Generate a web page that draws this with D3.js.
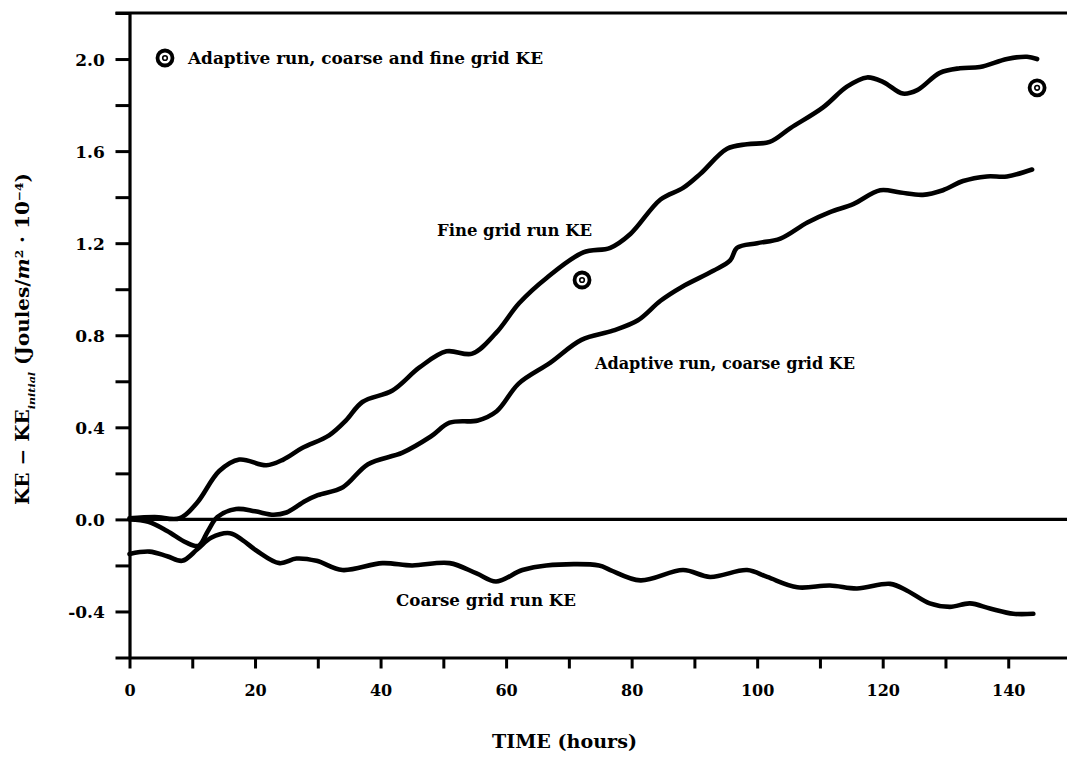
<!DOCTYPE html>
<html>
<head>
<meta charset="utf-8">
<script src="https://cdn.jsdelivr.net/npm/d3@7"></script>
<style>
  body { margin: 0; background: #fff; }
  text { font-family: "DejaVu Serif", "Liberation Serif", serif; font-weight: bold; fill: #000; }
</style>
</head>
<body>
<div id="my_dataviz"></div>
<script>
// values: [time (hours), KE - KE_initial]
var fineGrid = [[0,0.005],[4,0.01],[8,0.005],[10.7,0.07],[14.3,0.21],[17.5,0.26],[21.8,0.235],[24.5,0.26],
  [27.5,0.31],[31.8,0.365],[34.5,0.43],[37.1,0.51],[41.9,0.56],[46.2,0.66],[50.5,0.73],[54.6,0.72],[58.4,0.81],
  [62.1,0.94],[66.5,1.05],[72.3,1.16],[76.6,1.18],[79.8,1.24],[84.6,1.39],[88.2,1.44],[90.9,1.5],[95.2,1.61],
  [98.4,1.63],[102,1.64],[105.3,1.7],[110.5,1.79],[114.3,1.88],[117.5,1.92],[120.1,1.9],[123.2,1.85],[125.5,1.865],
  [129.1,1.94],[132.3,1.96],[135.5,1.965],[139.8,2.0],[143,2.01],[144.6,2.0]];
var adaptiveCoarse = [[0,0],[3,-0.01],[6,-0.05],[9,-0.1],[11,-0.115],[12.5,-0.05],[14,0.01],[17,0.045],[20,0.035],
  [23,0.02],[25,0.03],[28,0.08],[30,0.105],[34,0.14],[38,0.24],[43.5,0.29],[48,0.36],[51,0.42],[55.5,0.43],
  [58.5,0.47],[62,0.59],[67,0.68],[72,0.78],[77,0.82],[81,0.865],[84.6,0.95],[88,1.01],[93,1.08],[95.7,1.125],
  [96.8,1.18],[100,1.2],[103.7,1.22],[108,1.29],[111.6,1.335],[115.3,1.37],[119.6,1.43],[122.8,1.42],[126.4,1.41],
  [129.6,1.43],[132.8,1.47],[136.6,1.49],[139.8,1.49],[143.8,1.52]];
var coarseGrid = [[0,-0.15],[3.2,-0.14],[6,-0.16],[8.4,-0.18],[10.8,-0.13],[13,-0.08],[16,-0.06],[18,-0.09],
  [20.2,-0.135],[23.9,-0.19],[26.6,-0.17],[29.8,-0.18],[33.9,-0.22],[40.3,-0.19],[45,-0.2],[51,-0.19],[55.3,-0.235],
  [58.4,-0.27],[62.6,-0.22],[66.4,-0.2],[74.8,-0.2],[76.6,-0.22],[81.4,-0.265],[88.2,-0.22],[92.5,-0.25],[98.4,-0.22],
  [101.6,-0.25],[106.4,-0.295],[111.6,-0.287],[115.9,-0.3],[121.2,-0.28],[123.9,-0.31],[127.5,-0.365],[130.7,-0.38],
  [133.9,-0.365],[137.1,-0.387],[140.8,-0.41],[144,-0.41]];
var adaptiveFinePoints = [[72.1,1.04],[144.6,1.875]];

var xTicks = d3.range(0, 141, 10);
var xLabels = [0, 20, 40, 60, 80, 100, 120, 140];
var yTicks = d3.range(-6, 23, 2).map(function(d) { return d / 10; });
var yLabels = [-0.4, 0.0, 0.4, 0.8, 1.2, 1.6, 2.0];

var width = 1067, height = 757;

var svg = d3.select("#my_dataviz")
  .append("svg")
    .attr("width", width)
    .attr("height", height);

var x = d3.scaleLinear().domain([0, 150]).range([129.5, 1071]);
var y = d3.scaleLinear().domain([-0.6, 2.2]).range([657.5, 13]);

// axes (ticks outward, labels only on the major ones)
var xAxis = svg.append("g")
  .attr("transform", "translate(0," + y(-0.6) + ")")
  .call(d3.axisBottom(x).tickValues(xTicks).tickSize(11).tickSizeOuter(0)
    .tickFormat(function(d) { return xLabels.indexOf(d) >= 0 ? d : ""; }));
var yAxis = svg.append("g")
  .attr("transform", "translate(" + x(0) + ",0)")
  .call(d3.axisLeft(y).tickValues(yTicks).tickSize(14).tickSizeOuter(0)
    .tickFormat(function(d) {
      var isMajor = yLabels.some(function(v) { return Math.abs(v - d) < 1e-6; });
      return isMajor ? d.toFixed(1) : "";
    }));

[xAxis, yAxis].forEach(function(g) {
  g.select(".domain").attr("stroke", "#000").attr("stroke-width", 3.2);
  g.selectAll(".tick line").attr("stroke", "#000").attr("stroke-width", 3);
  g.selectAll(".tick text").style("font-family", "'DejaVu Serif', serif")
    .style("font-weight", "bold").attr("fill", "#000");
});
xAxis.selectAll(".tick text").style("font-size", "16px").attr("dy", "1.55em");
yAxis.selectAll(".tick text").style("font-size", "17px").attr("dx", "-0.45em").attr("dy", "0.36em");

// top border and zero line
svg.append("line")
  .attr("x1", x(0) - 14).attr("x2", width)
  .attr("y1", y(2.2)).attr("y2", y(2.2))
  .attr("stroke", "#000").attr("stroke-width", 3.2);
svg.append("line")
  .attr("x1", x(0)).attr("x2", width)
  .attr("y1", y(0)).attr("y2", y(0))
  .attr("stroke", "#000").attr("stroke-width", 3.2);

// curves
var line = d3.line()
  .x(function(d) { return x(d[0]); })
  .y(function(d) { return y(d[1]); })
  .curve(d3.curveCatmullRom.alpha(0.5));

[fineGrid, adaptiveCoarse, coarseGrid].forEach(function(s) {
  svg.append("path")
    .datum(s)
    .attr("d", line)
    .attr("fill", "none")
    .attr("stroke", "#000")
    .attr("stroke-width", 4.6)
    .attr("stroke-linecap", "round")
    .attr("stroke-linejoin", "round");
});

// circled-dot markers
function marker(cx, cy) {
  svg.append("circle").attr("cx", cx).attr("cy", cy).attr("r", 7.5)
    .attr("fill", "#fff").attr("stroke", "#000").attr("stroke-width", 3.8);
  svg.append("circle").attr("cx", cx).attr("cy", cy).attr("r", 2.3)
    .attr("fill", "none").attr("stroke", "#000").attr("stroke-width", 1.6);
}
adaptiveFinePoints.forEach(function(d) { marker(x(d[0]), y(d[1])); });
marker(165, 58);

// labels
function label(txt, x0, yc, len, size) {
  svg.append("text")
    .attr("x", x0).attr("y", yc)
    .attr("dy", "0.36em")
    .attr("textLength", len)
    .attr("lengthAdjust", "spacingAndGlyphs")
    .style("font-size", size + "px")
    .text(txt);
}
label("Adaptive run, coarse and fine grid KE", 188, 58, 355, 17);
label("Fine grid run KE", 437, 230, 155, 17);
label("Adaptive run, coarse grid KE", 595, 363, 260, 17);
label("Coarse grid run KE", 396, 600, 180, 17);
label("TIME (hours)", 492, 742, 145, 18);

// y title
var yt = svg.append("text")
  .attr("transform", "translate(23,339) rotate(-90)")
  .attr("x", -166)
  .attr("dy", "0.36em")
  .attr("textLength", 332)
  .attr("lengthAdjust", "spacingAndGlyphs")
  .style("font-size", "18px");
yt.append("tspan").text("KE \u2212 KE");
yt.append("tspan").attr("baseline-shift", "sub").style("font-size", "10px").style("font-style", "italic").text("initial");
yt.append("tspan").text(" (Joules/");
yt.append("tspan").style("font-style", "italic").text("m");
yt.append("tspan").attr("baseline-shift", "super").style("font-size", "11px").text("2");
yt.append("tspan").text(" \u00b7 10");
yt.append("tspan").attr("baseline-shift", "super").style("font-size", "11px").text("\u22124");
yt.append("tspan").text(")");
</script>
</body>
</html>
